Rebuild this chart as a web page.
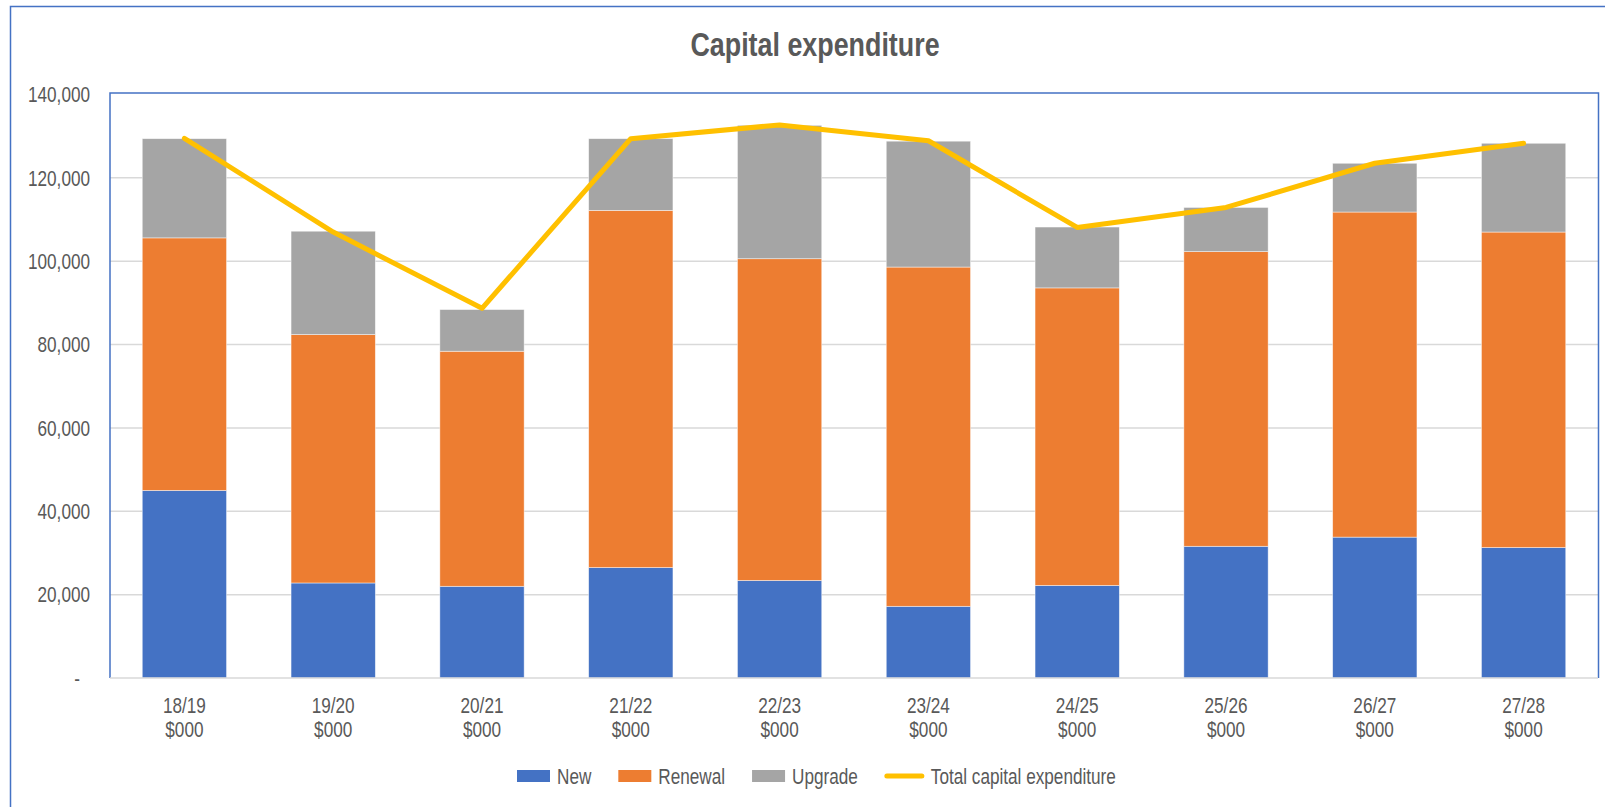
<!DOCTYPE html>
<html>
<head>
<meta charset="utf-8">
<script src="https://cdn.jsdelivr.net/npm/d3@7"></script>
<style>
	body { margin: 0; background: #fff; }
	svg { display: block; font-family: "Liberation Sans", Arial, sans-serif; }
</style>
</head>
<body>
<div id="chart"></div>
<script>
// Chart data (values in $000)
const categories = ["18/19", "19/20", "20/21", "21/22", "22/23", "23/24", "24/25", "25/26", "26/27", "27/28"]
const unitLabel = "$000"
const newValues = [45000, 22800, 22000, 26500, 23400, 17200, 22200, 31600, 33800, 31300]
const renewalValues = [60600, 59600, 56400, 85700, 77200, 81400, 71400, 70700, 78000, 75700]
const upgradeValues = [23800, 24800, 10000, 17200, 32000, 30200, 14600, 10600, 11700, 21300]
const totalValues = [129500, 107000, 88700, 129400, 132700, 128900, 108100, 112900, 123500, 128300]
const yTicks = [0, 20000, 40000, 60000, 80000, 100000, 120000, 140000]
const seriesNames = ["New", "Renewal", "Upgrade"]
const lineName = "Total capital expenditure"
const chartTitle = "Capital expenditure"

const colors = { New: "#4472C4", Renewal: "#ED7D31", Upgrade: "#A5A5A5" }
const lineColor = "#FFC000"
const textColor = "#595959"
const squeeze = 0.78 // text in the picture is horizontally narrowed

const width = 1605
const height = 807
const plot = { left: 110, right: 1598, top: 94.5, bottom: 678 }

const svg = d3
	.select("#chart")
	.append("svg")
	.attr("width", width)
	.attr("height", height)

// helper for narrowed text
const addText = (parent, x, y, str, size, opts = {}) =>
	parent
		.append("text")
		.attr("transform", `translate(${x},${y}) scale(${opts.squeeze || squeeze},1)`)
		.attr("text-anchor", opts.anchor || "middle")
		.attr("dominant-baseline", "central")
		.attr("font-size", size)
		.attr("font-weight", opts.bold ? "bold" : "normal")
		.attr("fill", textColor)
		.text(str)

// Outer chart border
svg.append("rect")
	.attr("x", 10.5)
	.attr("y", 6.5)
	.attr("width", width)
	.attr("height", height)
	.attr("fill", "#fff")
	.attr("stroke", "#4472C4")
	.attr("stroke-width", 1.5)

addText(svg, 815, 44, chartTitle, 34, { bold: true, squeeze: 0.79 })

// Scales
const xScale = d3
	.scaleBand()
	.domain(categories)
	.range([plot.left, plot.right])
	.paddingInner(0.4335)
	.paddingOuter(0.4335 / 2)

const yScale = d3
	.scaleLinear()
	.domain([0, 140000])
	.range([plot.bottom, plot.top])

// Gridlines
svg.append("g")
	.selectAll("line")
	.data(yTicks.filter((d) => d > 0 && d < 140000))
	.enter()
	.append("line")
	.attr("x1", plot.left)
	.attr("x2", plot.right)
	.attr("y1", (d) => yScale(d))
	.attr("y2", (d) => yScale(d))
	.attr("stroke", "#d9d9d9")
	.attr("stroke-width", 1.5)

// Y tick labels
const yAxis = svg.append("g")
yTicks.forEach((t) => {
	if (t === 0) addText(yAxis, 80, yScale(t), "-", 22, { anchor: "end" })
	else addText(yAxis, 90, yScale(t), d3.format(",")(t), 22, { anchor: "end" })
})

// Stacked bars
const rows = categories.map((c, i) => ({
	category: c,
	New: newValues[i],
	Renewal: renewalValues[i],
	Upgrade: upgradeValues[i],
}))
const stacked = d3.stack().keys(seriesNames)(rows)

svg.append("g")
	.selectAll("g")
	.data(stacked)
	.enter()
	.append("g")
	.attr("fill", (d) => colors[d.key])
	.selectAll("rect")
	.data((d) => d)
	.enter()
	.append("rect")
	.attr("x", (d) => xScale(d.data.category))
	.attr("width", xScale.bandwidth())
	.attr("y", (d) => yScale(d[1]))
	.attr("height", (d) => yScale(d[0]) - yScale(d[1]))
	.attr("stroke", "#ffffff")
	.attr("stroke-opacity", 0.6)
	.attr("stroke-width", 0.75)

// Plot area border (top, left, right) and bottom axis line
svg.append("path")
	.attr("d", `M${plot.left},${plot.bottom}V93H${plot.right + 0.5}V${plot.bottom}`)
	.attr("fill", "none")
	.attr("stroke", "#4472C4")
	.attr("stroke-width", 1.5)

svg.append("line")
	.attr("x1", plot.left)
	.attr("x2", plot.right)
	.attr("y1", plot.bottom)
	.attr("y2", plot.bottom)
	.attr("stroke", "#d9d9d9")
	.attr("stroke-width", 1.5)

// Total line
const line = d3
	.line()
	.x((d, i) => xScale(categories[i]) + xScale.bandwidth() / 2)
	.y((d) => yScale(d))

svg.append("path")
	.datum(totalValues)
	.attr("fill", "none")
	.attr("stroke", lineColor)
	.attr("stroke-width", 5)
	.attr("stroke-linecap", "round")
	.attr("stroke-linejoin", "round")
	.attr("d", line)

// X labels
const xAxis = svg.append("g")
categories.forEach((c) => {
	const cx = xScale(c) + xScale.bandwidth() / 2
	addText(xAxis, cx, 705, c, 22)
	addText(xAxis, cx, 729, unitLabel, 22)
})

// Legend
const legendItems = [
	...seriesNames.map((n) => ({ label: n, color: colors[n], type: "rect" })),
	{ label: lineName, color: lineColor, type: "line" },
]
const legend = svg.append("g").attr("transform", "translate(517, 776)")
let lx = 0
legendItems.forEach((item) => {
	if (item.type === "rect") {
		legend.append("rect")
			.attr("x", lx)
			.attr("y", -6)
			.attr("width", 33)
			.attr("height", 12)
			.attr("fill", item.color)
	} else {
		legend.append("line")
			.attr("x1", lx + 2)
			.attr("x2", lx + 37)
			.attr("y1", 0)
			.attr("y2", 0)
			.attr("stroke", item.color)
			.attr("stroke-width", 5)
			.attr("stroke-linecap", "round")
	}
	const sw = item.type === "rect" ? 33 : 39
	const t = addText(legend, lx + sw + 7, 0, item.label, 22, { anchor: "start" })
	lx += sw + 7 + t.node().getComputedTextLength() * squeeze + 27
})
</script>
</body>
</html>
